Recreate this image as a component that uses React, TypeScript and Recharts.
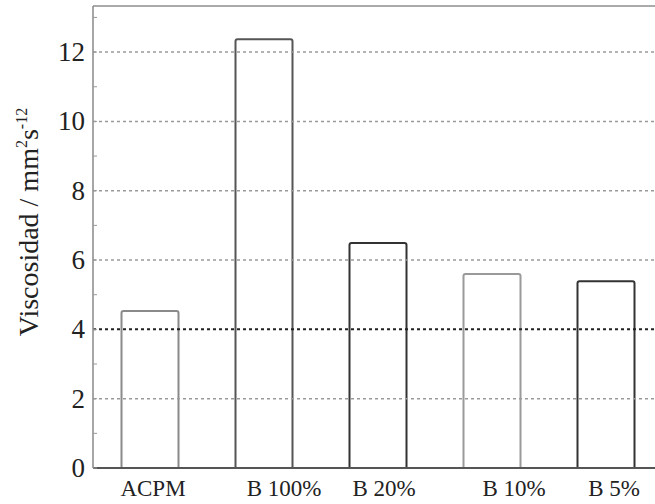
import React from 'react'
import { BarChart, Bar, XAxis, YAxis, ReferenceLine, Cell } from 'recharts'

const categories = ['ACPM', 'B 100%', 'B 20%', 'B 10%', 'B 5%']
const viscosity = [4.53, 12.37, 6.49, 5.6, 5.39]
const yTicks = [0, 1, 2, 3, 4, 5, 6, 7, 8, 9, 10, 11, 12, 13]
const gridValues = [2, 4, 6, 8, 10, 12]
const yMax = 13.33

const data = categories.map((name, i) => ({ name, value: viscosity[i] }))

const serif = '"Liberation Serif", "DejaVu Serif", serif'
const barStrokes = ['#8a8a8a', '#555', '#333', '#9a9a9a', '#333']
// labels in the original sit a bit right of their bars
const labelShift = [3, 20, 6, 22, 8]

const XTick = (props: any) => {
    const { x, y, payload, index } = props
    return (
        <text
            x={x + (labelShift[index] ?? 0)}
            y={y + 20}
            textAnchor="middle"
            fontFamily={serif}
            fontSize={23}
            fill="#222"
        >
            {payload.value}
        </text>
    )
}

const YTick = (props: any) => {
    const { y, payload } = props
    if (payload.value % 2 !== 0) return <g />
    return (
        <text
            x={85}
            y={y + 9}
            textAnchor="end"
            fontFamily={serif}
            fontSize={27}
            fill="#222"
        >
            {payload.value}
        </text>
    )
}

const YTitle = () => (
    <text
        x={38}
        y={222}
        transform="rotate(-90, 38, 222)"
        textAnchor="middle"
        fontFamily={serif}
        fontSize={28}
        fill="#222"
    >
        Viscosidad / mm
        <tspan fontSize={16} dy={-11}>2</tspan>
        <tspan dy={11}>s</tspan>
        <tspan fontSize={16} dy={-11}>-12</tspan>
    </text>
)

export default function App() {
    return (
        <div style={{ position: 'absolute', left: 0, top: 0, width: 655, height: 504, overflow: 'hidden', background: '#fff' }}>
            <BarChart
                width={670}
                height={504}
                data={data}
                margin={{ top: 6, right: 7, bottom: 0, left: 0 }}
                barCategoryGap="25%"
            >
                {gridValues.map((v) => (
                    <ReferenceLine
                        key={v}
                        y={v}
                        stroke={v === 4 ? '#222' : '#9a9a9a'}
                        strokeWidth={v === 4 ? 2 : 1.5}
                        strokeDasharray="3 3"
                    />
                ))}
                <ReferenceLine y={yMax} stroke="#aaa" strokeWidth={2} />
                <XAxis
                    dataKey="name"
                    height={36}
                    axisLine={{ stroke: '#555', strokeWidth: 2 }}
                    tickLine={false}
                    tick={<XTick />}
                    interval={0}
                />
                <YAxis
                    width={93}
                    domain={[0, yMax]}
                    ticks={yTicks}
                    interval={0}
                    allowDataOverflow
                    axisLine={{ stroke: '#888', strokeWidth: 1.5 }}
                    tickLine={{ stroke: '#999' }}
                    tickSize={-4}
                    tick={<YTick />}
                    label={<YTitle />}
                />
                <Bar dataKey="value" fill="transparent" strokeWidth={2} radius={[2, 2, 0, 0]} isAnimationActive={false}>
                    {data.map((d, i) => (
                        <Cell key={d.name} stroke={barStrokes[i]} />
                    ))}
                </Bar>
            </BarChart>
        </div>
    )
}
